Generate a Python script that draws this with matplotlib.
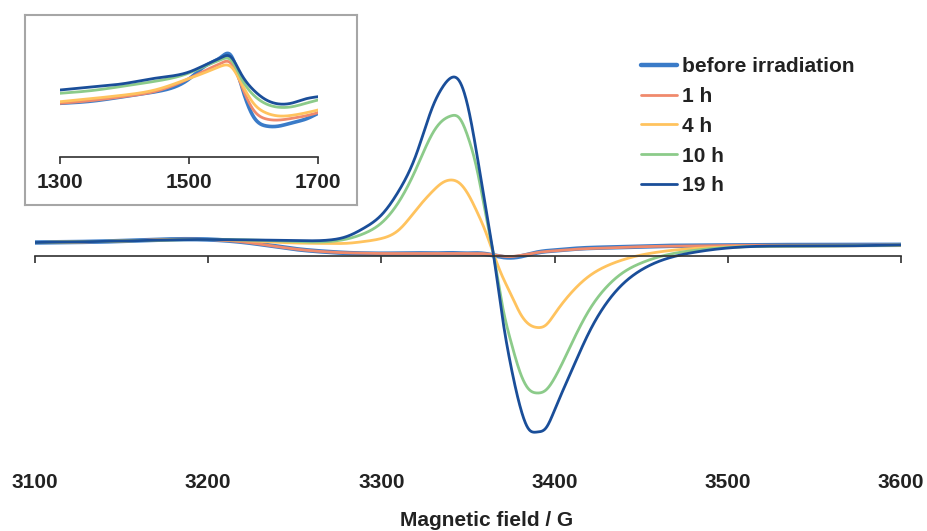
import numpy as np
import matplotlib
matplotlib.use("Agg")
import matplotlib.pyplot as plt
from matplotlib.transforms import blended_transform_factory

plt.rcParams['font.family'] = ['Liberation Sans', 'DejaVu Sans']
plt.rcParams['font.weight'] = 'bold'

# ---------------- main spectrum data (arbitrary intensity units) ----------------
field = [3100, 3150, 3200, 3225, 3250, 3270, 3280, 3290, 3300, 3310, 3320, 3330,
         3335, 3340, 3345, 3350, 3355, 3360, 3365, 3370, 3375, 3380, 3385, 3390,
         3395, 3400, 3410, 3420, 3430, 3440, 3450, 3460, 3480, 3500, 3550, 3600]

before = [13.5, 15, 16.5, 13, 7, 4, 3, 2.5, 2.3, 2.5, 2.7, 2.5, 2.6, 2.8, 2.6, 2.4,
          2.6, 2, 0.5, -1, -1.5, -0.5, 1.5, 3.5, 4.8, 5.5, 7, 8, 8.5, 9, 9.5, 10,
          10.3, 10.7, 11, 11.2]
h1 = [13.5, 15, 16.5, 13, 7, 4, 3.2, 2.8, 2.5, 2.5, 2.5, 2.5, 2.5, 2.5, 2.5, 2.5,
      2.5, 2.2, 1, -0.2, -0.5, 0.5, 2, 3.5, 4.5, 5.2, 6.5, 7.5, 8, 8.7, 9.3, 9.7,
      10, 10.5, 10.7, 11]
h4 = [13.5, 15, 16.5, 15, 13, 12.5, 12.7, 14.5, 17.5, 26, 46, 65.5, 73, 76, 73, 62,
      45, 25, 1, -21, -39, -57, -68, -71.5, -69, -58, -36, -20, -10, -3.5, 1, 4,
      7.5, 9, 10, 10.5]
h10 = [13.5, 15, 16.5, 16, 14.5, 14.5, 17, 22.5, 33, 54, 87, 124, 135, 140, 138, 119,
       88, 44, -1, -51, -87, -116, -133, -137, -134, -122, -87, -54, -31, -16, -7,
       -1, 5.5, 8.5, 10, 11]
h19 = [13.5, 15, 16.5, 16, 15.5, 16, 19.5, 28, 41, 65, 101, 151, 168, 178, 175, 149,
       103, 51, -2, -63, -112, -150, -173, -176, -172, -154, -114, -76, -47, -27,
       -14, -5.5, 3.5, 8, 10, 11]

# ---------------- inset data ----------------
inset_field = [1300, 1350, 1400, 1450, 1500, 1525, 1550, 1565, 1580, 1600, 1620,
               1640, 1660, 1680, 1700]
in_before = [53.7, 56, 60.5, 65.5, 78, 91, 100, 101.5, 74, 40.3, 31, 31, 34.3, 37.7, 43.7]
in_h1 = [53.7, 56.5, 60.5, 66, 78.5, 86.5, 94, 93.7, 73.7, 47, 38, 37, 38.7, 41, 44.3]
in_h4 = [55.3, 58.5, 62, 67.5, 78.5, 84.5, 91, 90.3, 75.3, 53.7, 44, 41, 41.7, 44, 47]
in_h10 = [63.7, 66.5, 71, 76, 84, 91, 97.5, 97, 80, 62, 53, 49.7, 50.3, 53.5, 57]
in_h19 = [67, 70, 73.5, 79, 85, 92, 99.5, 100, 84, 67, 57, 53, 54, 58, 60.3]

labels = ["before irradiation", "1 h", "4 h", "10 h", "19 h"]
main_ticks = [3100, 3200, 3300, 3400, 3500, 3600]
inset_ticks = [1300, 1500, 1700]

colors = ["#3A7BC8", "#F08A6C", "#FFC35E", "#8CCB8A", "#1A4E99"]
widths = [3.2, 2.0, 2.0, 2.0, 2.0]


def smooth(x, y, xs):
    """Natural cubic spline through the read points (rendering only)."""
    x = np.asarray(x, float); y = np.asarray(y, float)
    n = len(x); h = np.diff(x)
    A = np.zeros((n, n)); r = np.zeros(n)
    A[0, 0] = A[-1, -1] = 1.0
    for i in range(1, n - 1):
        A[i, i - 1] = h[i - 1]; A[i, i] = 2 * (h[i - 1] + h[i]); A[i, i + 1] = h[i]
        r[i] = 3 * ((y[i + 1] - y[i]) / h[i] - (y[i] - y[i - 1]) / h[i - 1])
    c = np.linalg.solve(A, r)
    b = (y[1:] - y[:-1]) / h - h * (2 * c[:-1] + c[1:]) / 3
    d = (c[1:] - c[:-1]) / (3 * h)
    idx = np.clip(np.searchsorted(x, xs) - 1, 0, n - 2)
    t = xs - x[idx]
    return y[idx] + b[idx] * t + c[idx] * t**2 + d[idx] * t**3


W, H = 927, 531
fig = plt.figure(figsize=(W / 100, H / 100), dpi=100)

# main axes: x px 35..901, y px 56..456 (0 at py 256)
ax = fig.add_axes([35 / W, 1 - 456 / H, 866 / W, 400 / H])
ax.set_xlim(3100, 3600)
ax.set_ylim(-200, 200)
xs = np.linspace(3100, 3600, 2000)
series = [before, h1, h4, h10, h19]
for s, c, lw, lab in zip(series, colors, widths, labels):
    ax.plot(xs, smooth(field, s, xs), color=c, lw=lw, label=lab, solid_capstyle='round')

for sp in ['left', 'right', 'top']:
    ax.spines[sp].set_visible(False)
ax.spines['bottom'].set_position(('data', 0))
ax.spines['bottom'].set_color('#303030')
ax.spines['bottom'].set_linewidth(1.2)
ax.set_yticks([])
ax.set_xticks(main_ticks)
ax.set_xticklabels([])
ax.tick_params(axis='x', direction='out', length=5, width=1.2, color='#303030')
trans = blended_transform_factory(ax.transData, fig.transFigure)
for t in main_ticks:
    ax.text(t, 1 - 482 / H, str(t), transform=trans, ha='center', va='center',
            fontsize=15, fontweight='bold', color='#222222')
fig.text(487 / W, 1 - 521 / H, "Magnetic field / G", ha='center', va='center',
         fontsize=15, fontweight='bold', color='#222222')

leg = ax.legend(loc='upper left', bbox_to_anchor=(641 / W, 1 - 57 / H),
                bbox_transform=fig.transFigure, frameon=False, borderpad=0,
                borderaxespad=0, handlelength=1.75, handletextpad=0.2,
                labelspacing=0.52, prop={'size': 15, 'weight': 'bold'})
for txt in leg.get_texts():
    txt.set_color('#222222')

# inset frame
fr = fig.add_axes([25 / W, 1 - 205 / H, 332 / W, 190 / H])
fr.set_xticks([]); fr.set_yticks([])
for sp in fr.spines.values():
    sp.set_color('#A6A6A6'); sp.set_linewidth(1.5)
fr.patch.set_facecolor('white')

ia = fig.add_axes([60 / W, 1 - 157 / H, 258 / W, 127 / H])
ia.set_xlim(1300, 1700)
ia.set_ylim(0, 127)
ia.patch.set_alpha(0)
xi = np.linspace(1300, 1700, 800)
inset_series = [in_before, in_h1, in_h4, in_h10, in_h19]
for s, c, lw in zip(inset_series, colors, widths):
    ia.plot(xi, smooth(inset_field, s, xi), color=c, lw=lw if lw < 3 else 2.6)
for sp in ['left', 'right', 'top']:
    ia.spines[sp].set_visible(False)
ia.spines['bottom'].set_color('#303030')
ia.spines['bottom'].set_linewidth(1.2)
ia.set_yticks([])
ia.set_xticks(inset_ticks)
ia.set_xticklabels([])
ia.tick_params(axis='x', direction='out', length=5, width=1.2, color='#303030')
trans_i = blended_transform_factory(ia.transData, fig.transFigure)
for t in inset_ticks:
    ia.text(t, 1 - 183 / H, str(t), transform=trans_i, ha='center', va='center',
            fontsize=15, fontweight='bold', color='#222222')

fig.savefig("out.png", dpi=100)
